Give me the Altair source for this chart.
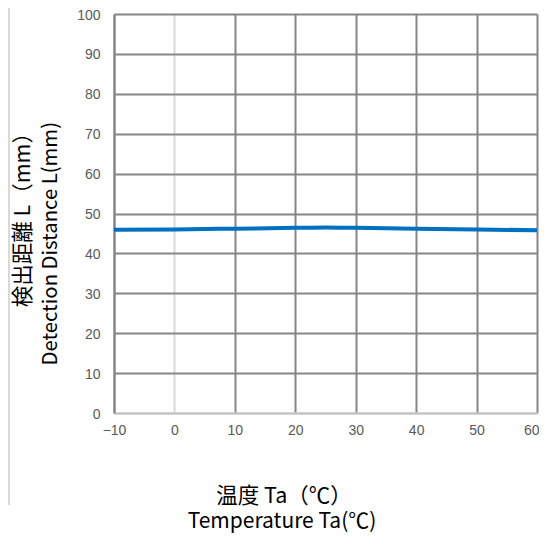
import altair as alt
import pandas as pd

# Data
temps = [-10, 0, 10, 20, 25, 30, 40, 50, 60]
dist = [45.9, 46.0, 46.2, 46.4, 46.5, 46.4, 46.2, 46.0, 45.8]
x_ticks = [-10, 0, 10, 20, 30, 40, 50, 60]
y_ticks = [0, 10, 20, 30, 40, 50, 60, 70, 80, 90, 100]
x_title = ["温度 Ta（℃）", "Temperature Ta(℃)"]
y_title = ["検出距離  L（mm）", "Detection Distance  L(mm)"]

df = pd.DataFrame({"t": temps, "d": dist})

DARK = "#868686"
LIGHT = "#d9d9d9"
CJK = "Noto Sans CJK JP"
W, H = 423, 399

grid_cond = alt.condition("datum.value === 0", alt.value(LIGHT), alt.value(DARK))

line = alt.Chart(df).mark_line(
    color="#0070C0", strokeWidth=4, interpolate="monotone"
).encode(
    x=alt.X(
        "t:Q",
        scale=alt.Scale(domain=[-10, 60], nice=False, zero=False),
        axis=alt.Axis(
            values=x_ticks, title=None, grid=True, gridColor=grid_cond,
            gridWidth=2, domainColor="#bfbfbf", domainWidth=2, ticks=False,
            labelFont="Liberation Sans", labelFontSize=14, labelColor="#595959",
            labelPadding=10,
            labelAlign=alt.condition("datum.value === 60", alt.value("right"), alt.value("center")),
            labelOffset=alt.condition("datum.value === 60", alt.value(2), alt.value(0)),
        ),
    ),
    y=alt.Y(
        "d:Q",
        scale=alt.Scale(domain=[0, 100], nice=False),
        axis=alt.Axis(
            values=y_ticks, title=None, grid=True, gridColor=grid_cond,
            gridWidth=2, domainColor=DARK, domainWidth=2, ticks=False,
            labelFont="Liberation Sans", labelFontSize=14, labelColor="#595959",
            labelPadding=14, labelOffset=1,
        ),
    ),
)

frame = alt.Chart(pd.DataFrame({"a": [0]})).mark_rule(
    color=LIGHT, strokeWidth=2
).encode(x=alt.value(-105), y=alt.value(-6), y2=alt.value(491))

def ttext(txt, x, y, size, angle=0, align="center"):
    return alt.Chart(pd.DataFrame({"s": [txt]})).mark_text(
        font=CJK, fontSize=size, color="#000000", angle=angle,
        align=align, baseline="middle",
    ).encode(text="s:N", x=alt.value(x), y=alt.value(y))

titles = [
    ttext(y_title[0], -90, 108, 21.5, angle=270, align="right"),
    ttext(y_title[1], -63, 108, 20.3, angle=270, align="right"),
    ttext(x_title[0], 170, 483, 21.5),
    ttext(x_title[1], 168, 508, 21),
]

chart = alt.layer(line, frame, *titles).properties(
    width=W, height=H,
    autosize=alt.AutoSizeParams(type="none"),
    padding={"left": 106, "top": 6, "right": 2, "bottom": 121},
).configure_view(stroke=None)

chart.save("out.html", embed_options={"renderer": "svg", "actions": False})
